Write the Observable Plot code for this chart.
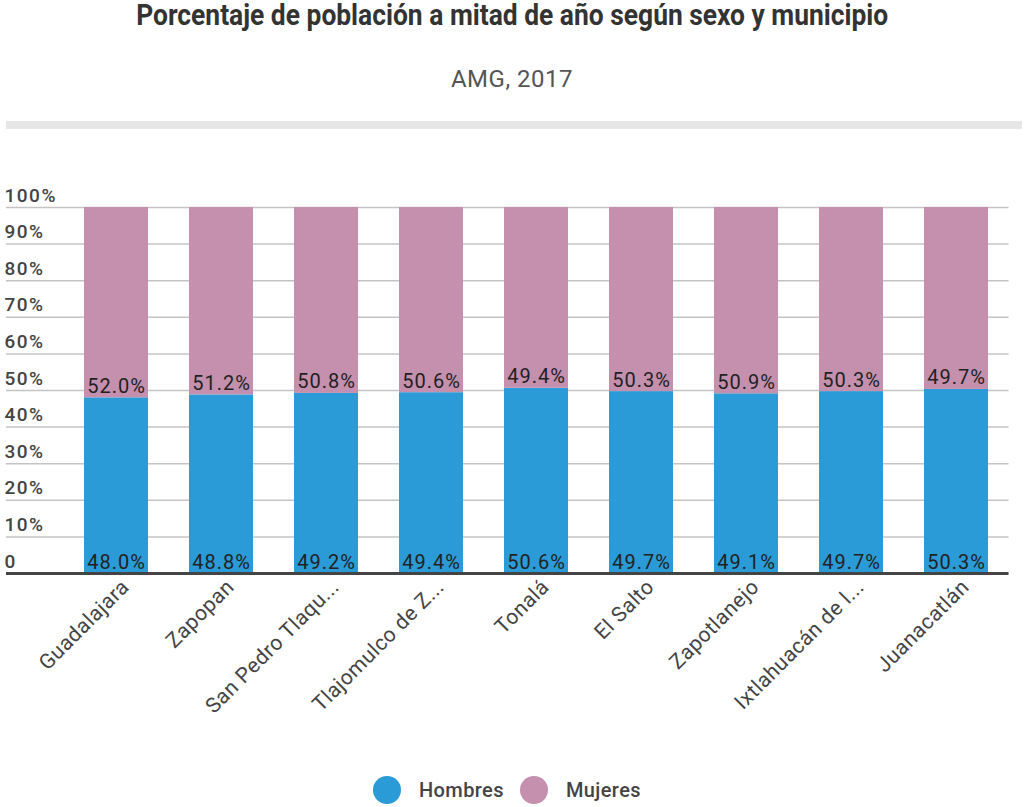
<!DOCTYPE html>
<html>
<head>
<meta charset="utf-8">
<script src="https://cdn.jsdelivr.net/npm/d3@7"></script>
<script src="https://cdn.jsdelivr.net/npm/@observablehq/plot@0.6"></script>
<style>
  html, body { margin: 0; padding: 0; background: #fff; width: 1024px; height: 807px; overflow: hidden; font-family: Roboto, "Noto Sans", sans-serif; }
  #header { position: relative; height: 140px; }
  #title { position: absolute; top: -2px; left: 0; width: 1024px; text-align: center; font-size: 29px; line-height: 34px; font-weight: bold; color: #333; }
  #title span { display: inline-block; transform: scaleX(0.91); transform-origin: center; white-space: nowrap; }
  #subtitle { position: absolute; top: 65px; left: 0; width: 1024px; text-align: center; font-size: 24px; line-height: 28px; color: #555; letter-spacing: 0.5px; }
  #band { position: absolute; top: 121px; left: 6px; width: 1016px; height: 8px; background: #e6e6e6; }
  #chart { position: absolute; top: 140px; left: 0; }
  #legend { position: absolute; top: 776px; left: 0; width: 1014px; height: 28px; display: flex; justify-content: center; align-items: center; font-size: 20px; font-weight: 500; color: #444; letter-spacing: 0.4px; }
  .sw { width: 28px; height: 28px; border-radius: 50%; display: inline-block; margin-right: 18px; }
  .item { display: flex; align-items: center; margin: 0 8px; }
  #chart g[aria-label="y-axis tick label"] text { letter-spacing: 1.5px; font-weight: 500; }
  #chart g[aria-label="x-axis tick label"] text { letter-spacing: 0.5px; }
  #chart g[aria-label="text"] text { letter-spacing: 1px; }
</style>
</head>
<body>
<div id="header">
  <div id="title"><span>Porcentaje de población a mitad de año según sexo y municipio</span></div>
  <div id="subtitle">AMG, 2017</div>
  <div id="band"></div>
</div>
<div id="chart"></div>
<div id="legend"></div>
<script>
const municipios = ["Guadalajara", "Zapopan", "San Pedro Tlaquepaque", "Tlajomulco de Zúñiga", "Tonalá", "El Salto", "Zapotlanejo", "Ixtlahuacán de los Membrillos", "Juanacatlán"];
const tickLabels = ["Guadalajara", "Zapopan", "San Pedro Tlaqu...", "Tlajomulco de Z...", "Tonalá", "El Salto", "Zapotlanejo", "Ixtlahuacán de l...", "Juanacatlán"];
const hombres = [48.0, 48.8, 49.2, 49.4, 50.6, 49.7, 49.1, 49.7, 50.3];
const mujeres = [52.0, 51.2, 50.8, 50.6, 49.4, 50.3, 50.9, 50.3, 49.7];
const series = ["Hombres", "Mujeres"];
const colors = ["#2a9bd6", "#c490ae"];
const yTicks = [0, 10, 20, 30, 40, 50, 60, 70, 80, 90, 100];

const rows = [];
municipios.forEach((m, i) => {
  rows.push({municipio: m, sexo: "Hombres", valor: hombres[i], y1: 0, y2: hombres[i]});
  rows.push({municipio: m, sexo: "Mujeres", valor: mujeres[i], y1: hombres[i], y2: hombres[i] + mujeres[i]});
});
const labelOf = new Map(municipios.map((m, i) => [m, tickLabels[i]]));

const plot = Plot.plot({
  width: 1024,
  height: 600,
  marginTop: 67,
  marginBottom: 167,
  marginLeft: 63.5,
  marginRight: 15.5,
  style: {fontFamily: "Roboto, sans-serif", background: "transparent", overflow: "visible"},
  x: {domain: municipios, paddingInner: 0.39, paddingOuter: 0.195, label: null},
  y: {domain: [0, 100], label: null},
  color: {domain: series, range: colors},
  marks: [
    Plot.ruleY(yTicks, {y: d => d, stroke: "#c4c4c4", strokeWidth: 1.5, insetLeft: -57.5}),
    Plot.rectY(rows, {x: "municipio", y1: "y1", y2: "y2", fill: "sexo"}),
    Plot.text(rows, {x: "municipio", y: "y1", text: d => d.valor.toFixed(1) + "%", lineAnchor: "bottom", dy: -5, fill: "#222", fontSize: 20}),
    Plot.ruleY([0], {stroke: "#444", strokeWidth: 3, insetLeft: -57.5}),
    Plot.axisY({ticks: yTicks, tickSize: 0, tickFormat: d => d === 0 ? "0" : d + "%", textAnchor: "start", lineAnchor: "bottom", dx: -50.5, dy: -6, fontSize: 19, fill: "#444", label: null}),
    Plot.axisX({tickSize: 0, tickRotate: -45, tickFormat: d => labelOf.get(d), fontSize: 21, fill: "#444", tickPadding: 10, dx: 9, label: null})
  ]
});
document.getElementById("chart").appendChild(plot);

const legend = document.getElementById("legend");
series.forEach((s, i) => {
  const item = document.createElement("div");
  item.className = "item";
  const sw = document.createElement("span");
  sw.className = "sw";
  sw.style.background = colors[i];
  const lab = document.createElement("span");
  lab.textContent = s;
  item.appendChild(sw);
  item.appendChild(lab);
  legend.appendChild(item);
});
</script>
</body>
</html>
